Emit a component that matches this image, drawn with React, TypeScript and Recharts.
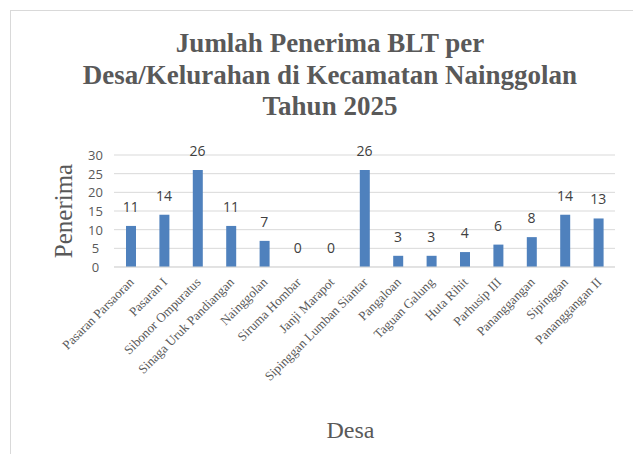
import { ComposedChart, Bar, Line, XAxis, YAxis, CartesianGrid, LabelList } from "recharts";

const desa = [
  "Pasaran Parsaoran",
  "Pasaran I",
  "Sibonor Ompuratus",
  "Sinaga Uruk Pandiangan",
  "Nainggolan",
  "Siruma Hombar",
  "Janji Marapot",
  "Sipinggan Lumban Siantar",
  "Pangaloan",
  "Taguan Galung",
  "Huta Rihit",
  "Parhusip III",
  "Pananggangan",
  "Sipinggan",
  "Pananggangan II",
];
const penerima = [11, 14, 26, 11, 7, 0, 0, 26, 3, 3, 4, 6, 8, 14, 13];
const yTicks = [0, 5, 10, 15, 20, 25, 30];

const data = desa.map((d, i) => ({ desa: d, penerima: penerima[i] }));

const serif = "'Liberation Serif', 'Times New Roman', serif";
const sans = "'Open Sans', 'Liberation Sans', sans-serif";

const XTick = (props: any) => {
  const { x, y, payload } = props;
  return (
    <text
      x={x + 4}
      y={y + 8}
      transform={`rotate(-45 ${x + 4} ${y + 8})`}
      textAnchor="end"
      fontFamily={serif}
      fontSize={13}
      fill="#595959"
    >
      {payload.value}
    </text>
  );
};

const YTick = (props: any) => {
  const { x, y, payload } = props;
  return (
    <text
      x={x - 18.5}
      y={y}
      textAnchor="middle"
      dominantBaseline="central"
      fontFamily={sans}
      fontSize={13}
      fill="#595959"
    >
      {payload.value}
    </text>
  );
};

const YLabel = (props: any) => {
  const vb = props.viewBox;
  const cy = vb.y + vb.height / 2;
  return (
    <text
      x={63}
      y={cy}
      transform={`rotate(-90 63 ${cy})`}
      textAnchor="middle"
      dominantBaseline="central"
      fontFamily={serif}
      fontSize={25}
      fill="#595959"
    >
      Penerima
    </text>
  );
};

export default function App() {
  return (
    <div style={{ position: "absolute", left: 0, top: 0, width: 633, height: 454, background: "#fff", overflow: "hidden" }}>
      <div
        style={{
          position: "absolute",
          left: 10,
          top: 10,
          width: 640,
          height: 460,
          border: "1px solid #d9d9d9",
        }}
      />
      <div
        style={{
          position: "absolute",
          left: 0,
          top: 28,
          width: 660,
          textAlign: "center",
          fontFamily: serif,
          fontWeight: "bold",
          fontSize: 27,
          lineHeight: "31.5px",
          color: "#595959",
        }}
      >
        Jumlah Penerima BLT per
        <br />
        Desa/Kelurahan di Kecamatan Nainggolan
        <br />
        Tahun 2025
      </div>
      <div style={{ position: "absolute", left: 0, top: 0 }}>
        <ComposedChart
          width={633}
          height={454}
          data={data}
          margin={{ top: 155, right: 18, bottom: 0, left: 0 }}
          barCategoryGap="35%"
        >
          <CartesianGrid vertical={false} stroke="#d9d9d9" />
          <XAxis
            dataKey="desa"
            interval={0}
            tick={<XTick />}
            tickLine={false}
            axisLine={{ stroke: "#d9d9d9" }}
            height={187}
            label={{
              value: "Desa",
              position: "insideBottom",
              offset: 16,
              dx: -14,
              style: { fontFamily: serif, fontSize: 24, fill: "#595959" },
            }}
          />
          <YAxis
            domain={[0, 30]}
            ticks={yTicks}
            interval={0}
            width={114}
            axisLine={false}
            tickLine={false}
            tickSize={0}
            tickMargin={0}
            tick={<YTick />}
            label={<YLabel />}
          />
          <Bar dataKey="penerima" fill="#4f81bd" barSize={10} isAnimationActive={false} />
          <Line
            dataKey="penerima"
            stroke="none"
            dot={false}
            activeDot={false}
            isAnimationActive={false}
          >
            <LabelList
              dataKey="penerima"
              position="top"
              offset={14}
              style={{ fontFamily: sans, fontSize: 14, fill: "#404040" }}
            />
          </Line>
        </ComposedChart>
      </div>
    </div>
  );
}
